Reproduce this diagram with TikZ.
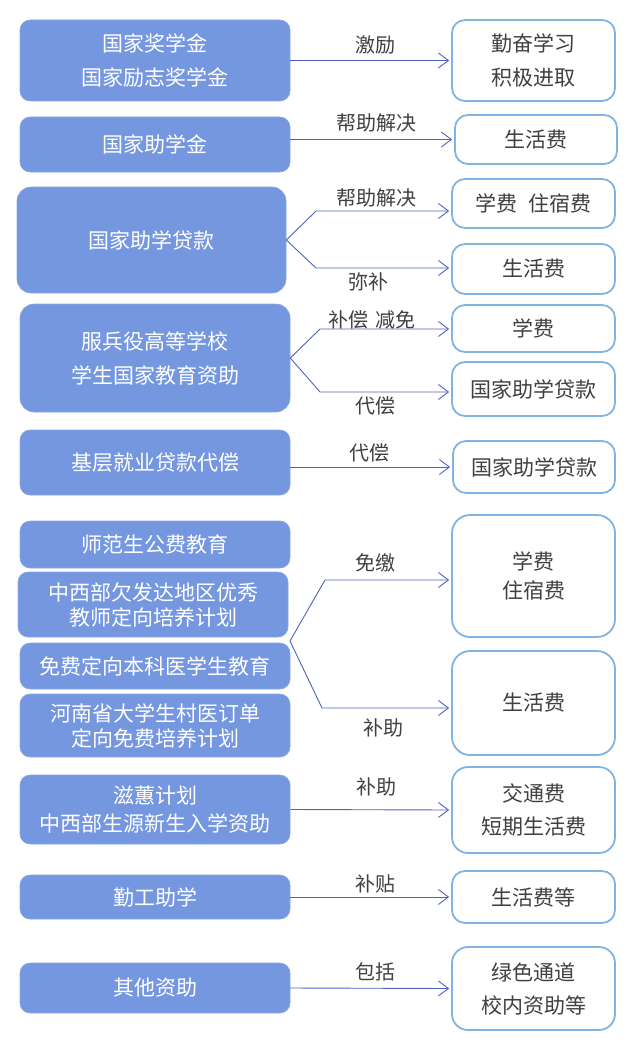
\documentclass[tikz,border=0pt]{standalone}
\usepackage{fontspec}
\setmainfont{Noto Sans CJK SC}
\usetikzlibrary{arrows.meta}
\definecolor{lfill}{RGB}{117,151,224}
\definecolor{rborder}{RGB}{128,180,226}
\definecolor{arr}{RGB}{78,98,190}
\definecolor{txt}{RGB}{64,64,64}
\tikzset{
  lbox/.style={rectangle, rounded corners=10pt, fill=lfill, draw=lfill!85!white, line width=0.6pt,
    text=white, align=center, inner sep=0pt, font=\fontsize{21}{21}\selectfont},
  rbox/.style={rectangle, rounded corners=13pt, draw=rborder, line width=1.8pt, fill=white,
    text=txt, align=center, inner sep=0pt, minimum width=163pt, font=\fontsize{21}{21}\selectfont},
  lbl/.style={text=txt, inner sep=0pt, font=\fontsize{20}{20}\selectfont},
  conn/.style={draw=arr, line width=0.9pt, -{Straight Barb[length=10pt,width=15pt,line width=0.9pt]}, shorten >=2pt},
}
\begin{document}
\begin{tikzpicture}[x=1pt,y=-1pt]
\useasboundingbox (0,0) rectangle (636,1046);
% left boxes
\node[lbox, minimum width=270pt, minimum height=81pt] (L1) at (155,60.5) {国家奖学金\\[13pt]国家励志奖学金};
\node[lbox, minimum width=270pt, minimum height=55pt] (L2) at (155,144.5) {国家助学金};
\node[lbox, minimum width=269pt, minimum height=106pt, rounded corners=14pt] (L3) at (151.5,240) {国家助学贷款};
\node[lbox, minimum width=270pt, minimum height=108pt, rounded corners=14pt] (L4) at (155,358) {服兵役高等学校\\[13pt]学生国家教育资助};
\node[lbox, minimum width=270pt, minimum height=65pt] (L5) at (155,462.5) {基层就业贷款代偿};
\node[lbox, minimum width=270pt, minimum height=47pt] (L6) at (155,544.5) {师范生公费教育};
\node[lbox, minimum width=270pt, minimum height=65pt] (L7) at (153,604.5) {中西部欠发达地区优秀\\[4pt]教师定向培养计划};
\node[lbox, minimum width=270pt, minimum height=46pt] (L8) at (155,666) {免费定向本科医学生教育};
\node[lbox, minimum width=270pt, minimum height=63pt] (L9) at (155,725.5) {河南省大学生村医订单\\[4pt]定向免费培养计划};
\node[lbox, minimum width=270pt, minimum height=69pt] (L10) at (155,809.5) {滋蕙计划\\[7pt]中西部生源新生入学资助};
\node[lbox, minimum width=270pt, minimum height=44pt] (L11) at (155,897) {勤工助学};
\node[lbox, minimum width=270pt, minimum height=50pt] (L12) at (155,988) {其他资助};
% right boxes
\node[rbox, minimum height=81pt] (R1) at (533.5,60.5) {勤奋学习\\[13pt]积极进取};
\node[rbox, minimum width=162pt, minimum height=49pt] (R2) at (536,139.5) {生活费};
\node[rbox, minimum height=49pt] (R3) at (533.5,203.5) {学费\hspace{0.5em}住宿费};
\node[rbox, minimum height=50pt] (R4) at (533.5,269) {生活费};
\node[rbox, minimum height=47pt] (R5) at (533.5,328.5) {学费};
\node[rbox, minimum height=54pt] (R6) at (533.5,389) {国家助学贷款};
\node[rbox, minimum width=162pt, minimum height=52pt] (R7) at (534,467) {国家助学贷款};
\node[rbox, minimum height=122pt, rounded corners=18pt] (R8) at (533.5,576) {学费\\[8pt]住宿费};
\node[rbox, minimum height=104pt, rounded corners=18pt] (R9) at (533.5,703) {生活费};
\node[rbox, minimum height=86pt, rounded corners=16pt] (R10) at (533.5,810) {交通费\\[12pt]短期生活费};
\node[rbox, minimum height=52pt] (R11) at (533.5,897) {生活费等};
\node[rbox, minimum height=83pt, rounded corners=16pt] (R12) at (533.5,988.5) {绿色通道\\[12pt]校内资助等};
% bend coordinates
\coordinate (b3a) at (316,211);
\coordinate (b3b) at (316,268);
\coordinate (b4a) at (320,329);
\coordinate (b4b) at (320,392);
\coordinate (f6) at (290,641);
\coordinate (b6a) at (325,580);
\coordinate (b6b) at (322,708);
% connectors
\draw[conn] (L1.east) -- (R1.west);
\draw[conn] (L2.east |- R2.west) -- (R2.west);
\draw[conn] (L3.east) -- (b3a) -- (b3a -| R3.west);
\draw[conn] (L3.east) -- (b3b) -- (b3b -| R4.west);
\draw[conn] (L4.east) -- (b4a) -- (b4a -| R5.west);
\draw[conn] (L4.east) -- (b4b) -- (b4b -| R6.west);
\draw[conn] (L5.east |- R7.west) -- (R7.west);
\draw[conn] (f6) -- (b6a) -- (b6a -| R8.west);
\draw[conn] (f6) -- (b6b) -- (b6b -| R9.west);
\draw[conn] (L10.east) -- (R10.west);
\draw[conn] (L11.east) -- (R11.west);
\draw[conn] (L12.east) -- (R12.west);
% labels
\node[lbl] (t1) at (375,45) {激励};
\node[lbl] (t2) at (376,123) {帮助解决};
\node[lbl] (t3a) at (376,198) {帮助解决};
\node[lbl] (t3b) at (368,282) {弥补};
\node[lbl] (t4a) at (372,320) {补偿\hspace{0.4em}减免};
\node[lbl] (t4b) at (375,406) {代偿};
\node[lbl] (t5) at (369,453) {代偿};
\node[lbl] (t6a) at (375,563) {免缴};
\node[lbl] (t6b) at (383,728) {补助};
\node[lbl] (t7) at (376,787) {补助};
\node[lbl] (t8) at (375,884) {补贴};
\node[lbl] (t9) at (375,972) {包括};
\end{tikzpicture}
\end{document}
